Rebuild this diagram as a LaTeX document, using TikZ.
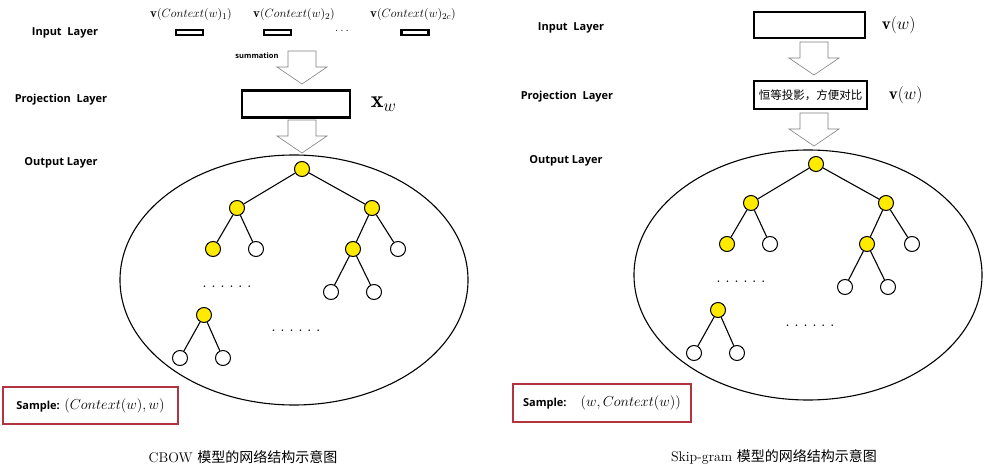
\documentclass[tikz,border=0pt]{standalone}
\usepackage{amsmath}
\usepackage{fontspec}
\setsansfont{Open Sans}
\newfontfamily\cjk{Noto Sans CJK SC}
\usepackage{tikz}
\usetikzlibrary{positioning}

\definecolor{samplered}{RGB}{178,52,62}
\definecolor{hsyellow}{RGB}{255,234,0}

% output layer: ellipse with the Huffman tree
\newcommand{\hstree}{%
  \draw[line width=1.1pt] (294,280) ellipse [x radius=174pt, y radius=125pt];
  \node[hs on]  (root) at (302,169) {};
  \node[hs on]  (l)    at (237,208) {};
  \node[hs on]  (r)    at (372,208) {};
  \node[hs on]  (ll)   at (213,249) {};
  \node[hs off] (lr)   at (256,249) {};
  \node[hs on]  (rl)   at (353,249) {};
  \node[hs off] (rr)   at (398,249) {};
  \node[hs off] (rll)  at (331,292) {};
  \node[hs off] (rlr)  at (374,292) {};
  \node[hs on]  (b)    at (204,315) {};
  \node[hs off] (bl)   at (180,358) {};
  \node[hs off] (br)   at (223,358) {};
  \node[dots] (dotsa) at (227,287) {. . . . . .};
  \node[dots] (dotsb) at (296,331) {. . . . . .};
  \path[hs edge]
  (root) edge (l) edge (r)
  (l) edge (ll) edge (lr)
  (r) edge (rl) edge (rr)
  (rl) edge (rll) edge (rlr)
  (b) edge (bl) edge (br);
}

\begin{document}
\begin{tikzpicture}[x=1pt, y=-1pt,
    layer/.style={font=\fontsize{11}{13}\selectfont\sffamily\bfseries},
    vec/.style={font=\fontsize{13}{15}\selectfont},
    inbox/.style={draw, line width=2.2pt, minimum width=27pt, minimum height=5pt, inner sep=0pt},
    projbox/.style={draw, line width=2.5pt, inner sep=0pt},
    samplebox/.style={draw=samplered, line width=1.8pt, inner sep=0pt,
      font=\fontsize{14}{16}\selectfont},
    caption/.style={font=\fontsize{14}{16}\selectfont},
    hs on/.style={circle, draw, line width=1pt, fill=hsyellow, minimum size=15pt, inner sep=0pt},
    hs off/.style={circle, draw, line width=1pt, fill=white, minimum size=15pt, inner sep=0pt},
    hs edge/.style={line width=1.1pt},
    dots/.style={font=\fontsize{11}{11}\selectfont\bfseries, inner sep=0pt},
    pics/hollowdown/.style={code={
      \draw[gray, line width=0.6pt, fill=white]
      (-14,0) -- (-14,16) -- (-25,16) -- (0,33) -- (25,16) -- (14,16) -- (14,0) -- cycle;}}]
\useasboundingbox (0,0) rectangle (989,468);

% CBOW
\node[layer] (cb-inlabel)   at (65,33)  {Input\ \ Layer};
\node[layer] (cb-projlabel) at (61,100) {Projection\ \ Layer};
\node[layer] (cb-outlabel)  at (61,163) {Output Layer};

\node[inbox] (cb-in1) at (189.5,32.5) {};
\node[inbox] (cb-in2) at (277.5,32.5) {};
\node[inbox] (cb-in3) at (415,32.5) {};
\node[font=\fontsize{13}{13}\selectfont] (cb-indots) at (342,31) {$\ldots$};
\node[vec] (cb-v1) at (191,15) {$\mathbf{v}(Context(w)_1)$};
\node[vec] (cb-v2) at (294,15) {$\mathbf{v}(Context(w)_2)$};
\node[vec] (cb-v3) at (413,15) {$\mathbf{v}(Context(w)_{2c})$};

\pic (cb-sum) at (302,51) {hollowdown};
\node[font=\fontsize{7.5}{9}\selectfont\sffamily\bfseries] (cb-sumlabel) at (257,56) {summation};

\node[projbox, minimum width=108pt, minimum height=27pt] (cb-proj) at (296,104) {};
\node[font=\fontsize{24}{24}\selectfont, right=16pt of cb-proj] (cb-x) {$\mathbf{x}_w$};

\pic (cb-down) at (302,120) {hollowdown};

\begin{scope}[name prefix=cb-]
  \hstree
\end{scope}

\node[samplebox, minimum width=175pt, minimum height=37pt] (cb-sample) at (90.5,405.5)
  {{\sffamily\bfseries\fontsize{11}{13}\selectfont Sample:}\ $(Context(w),w)$};
\node[caption] (cb-caption) at (243,457) {CBOW {\cjk 模型的网络结构示意图}};

% Skip-gram
\node[layer] (sg-inlabel)   at (571,28)  {Input\ \ Layer};
\node[layer] (sg-projlabel) at (567,97)  {Projection\ \ Layer};
\node[layer] (sg-outlabel)  at (566,161) {Output Layer};

\node[projbox, minimum width=111pt, minimum height=26pt] (sg-in) at (809.5,25) {};
\node[font=\fontsize{17}{17}\selectfont, right=12pt of sg-in] (sg-vin) {$\mathbf{v}(w)$};

\pic (sg-down1) at (814,42) {hollowdown};

\node[projbox, minimum width=113pt, minimum height=28pt,
  font=\cjk\fontsize{11.5}{12}\selectfont] (sg-proj) at (810.5,95) {恒等投影，方便对比};
\node[font=\fontsize{17}{17}\selectfont, right=17pt of sg-proj] (sg-vproj) {$\mathbf{v}(w)$};

\pic (sg-down2) at (814,113) {hollowdown};

\begin{scope}[shift={(514,-5)}, name prefix=sg-]
  \hstree
\end{scope}

\node[samplebox, minimum width=178pt, minimum height=38pt] (sg-sample) at (602,403)
  {{\sffamily\bfseries\fontsize{11}{13}\selectfont Sample:}\quad $(w,Context(w))$};
\node[caption] (sg-caption) at (774,457) {Skip-gram {\cjk 模型的网络结构示意图}};
\end{tikzpicture}
\end{document}
